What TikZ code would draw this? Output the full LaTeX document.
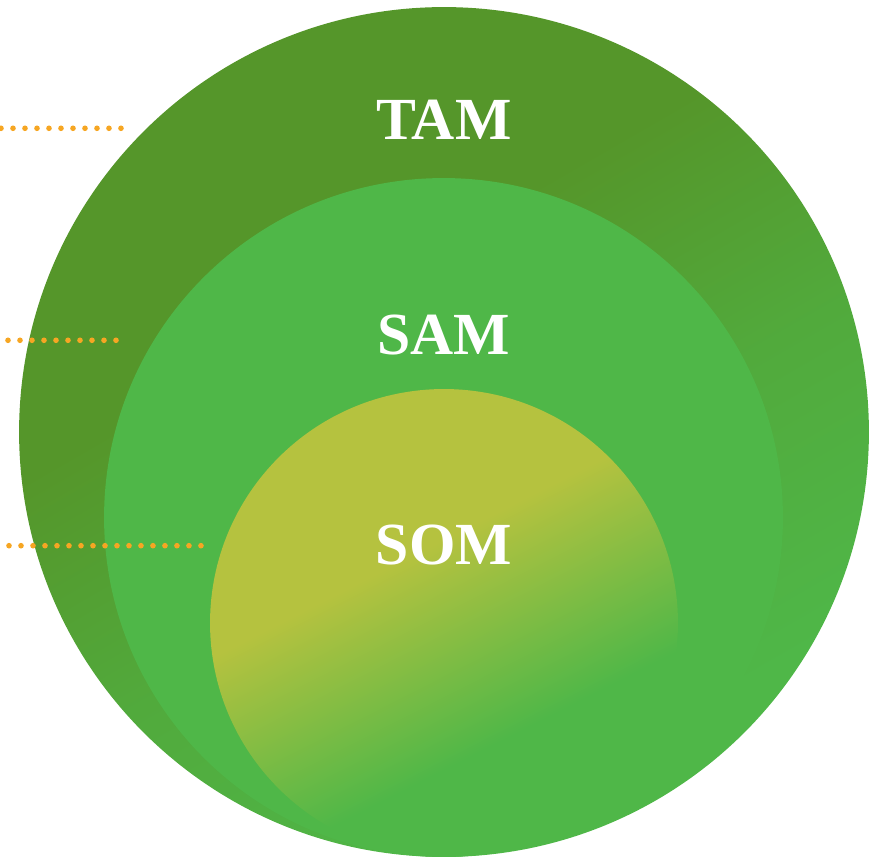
\documentclass[tikz,border=0pt]{standalone}
\usepackage{fontspec}
\setmainfont{Liberation Serif}
\usetikzlibrary{positioning}

\definecolor{tamgreen}{HTML}{55962A}
\definecolor{samgreen}{HTML}{4FB748}
\definecolor{somyellow}{HTML}{B5C23F}
\definecolor{dotorange}{HTML}{F6A623}

\pgfdeclareverticalshading{tamshade}{100bp}{color(0bp)=(samgreen); color(28bp)=(samgreen); color(45bp)=(samgreen!60!tamgreen); color(60bp)=(tamgreen); color(100bp)=(tamgreen)}
\pgfdeclareverticalshading{somshade}{100bp}{color(0bp)=(samgreen); color(36bp)=(samgreen); color(58bp)=(somyellow); color(100bp)=(somyellow)}

\begin{document}
\begin{tikzpicture}[x=0.02cm, y=-0.02cm,
    market/.style={circle, inner sep=0pt, minimum size=#1},
    marketlabel/.style={text=white, font=\fontsize{34}{36}\selectfont\bfseries, anchor=base},
    marketdots/.style={dotorange, line width=3.2pt, line cap=round, dash pattern=on 0pt off 0.24cm}]

\useasboundingbox (0,0) rectangle (876,857);

% 外圆：TAM
\node[market=17cm, shade, shading=tamshade, shading angle=30] (tam) at (444,432) {};

% 中圆：SAM
\node[market=13.58cm, fill=samgreen] (sam) at (443.5,517.5) {};

% 内圆：SOM
\node[market=9.36cm, shade, shading=somshade, shading angle=27] (som) at (444,623) {};

% 标注
\node[marketlabel] (tamtext) at (444,140) {TAM};
\node[marketlabel] (samtext) at (444,355) {SAM};
\node[marketlabel] (somtext) at (444,565) {SOM};

% 点线
\coordinate (tamdotstart) at (1,128.3);
\coordinate (tamdotend) at (121.5,128.3);
\coordinate (samdotstart) at (8,340.3);
\coordinate (samdotend) at (116.5,340.3);
\coordinate (somdotstart) at (9,545.7);
\coordinate (somdotend) at (201.5,545.7);
\draw[marketdots] (tamdotstart) -- (tamdotend);
\draw[marketdots] (samdotstart) -- (samdotend);
\draw[marketdots] (somdotstart) -- (somdotend);

\end{tikzpicture}
\end{document}
